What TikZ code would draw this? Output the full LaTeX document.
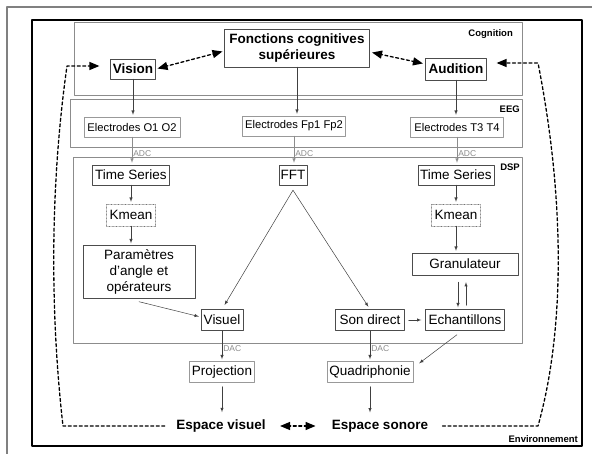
\documentclass[tikz,border=0pt]{standalone}
\usepackage{fontspec}
\setmainfont{Liberation Sans}
\usetikzlibrary{arrows}
\usetikzlibrary{positioning}

\tikzset{
  boite/.style={draw=black!70, fill=white, inner sep=0pt, minimum height=20pt,
    font=\fontsize{13.5}{16}\selectfont},
  boitegrise/.style={boite, draw=black!40},
  boiteelec/.style={boitegrise, font=\fontsize{11.2}{13}\selectfont},
  boitepoint/.style={boite, draw=black!55, densely dotted},
  titre/.style={font=\bfseries\fontsize{13.5}{16}\selectfont},
  etiq/.style={font=\bfseries\fontsize{9.5}{11}\selectfont, inner sep=0pt, anchor=east},
  conv/.style={font=\fontsize{8.5}{9}\selectfont, text=black!45, inner sep=1pt},
  fleche/.style={->, >=latex, draw=black!75, line width=0.5pt, shorten >=2pt},
  lien/.style={<->, >=triangle 45, line width=1.3pt, dash pattern=on 3pt off 2.5pt},
  boucle/.style={->, >=triangle 45, line width=1.3pt, dash pattern=on 3pt off 2.5pt},
  zone/.style={draw=black!45, line width=0.7pt}
}

\begin{document}
\begin{tikzpicture}[line cap=round,line join=round,x=1pt,y=-1pt]
\useasboundingbox (0,0) rectangle (592,454);
% cadres
\draw[black!50, line width=1.5pt] (7,454) -- (7,7) -- (592,7);
\draw[line width=1.2pt] (32,20) rectangle (582,446);
\draw[zone] (74,22) rectangle (522,95);
\draw[zone] (70,99) rectangle (522,147);
\draw[zone] (73,157) rectangle (522,343);
\node[etiq] (lcog) at (513,34) {Cognition};
\node[etiq] (leeg) at (520,109) {EEG};
\node[etiq] (ldsp) at (520,167) {DSP};
\node[etiq] (lenv) at (578,439) {Environnement};

% cognition
\node[boite, titre, minimum width=145, minimum height=38, align=center] (fonc) at (297,48) {Fonctions cognitives\\supérieures};
\node[boite, titre, minimum width=45, minimum height=20] (vision) at (133,69) {Vision};
\node[boite, titre, minimum width=61, minimum height=22] (audition) at (456,69) {Audition};

% EEG
\node[boiteelec, minimum width=96] (eO) at (132,127) {Electrodes O1 O2};
\node[boiteelec, minimum width=103] (eF) at (294,126) {Electrodes Fp1 Fp2};
\node[boiteelec, minimum width=93] (eT) at (457,127) {Electrodes T3 T4};

% DSP
\node[boite, minimum width=77] (tsL) at (131,175) {Time Series};
\node[boite, minimum width=28] (fft) at (293,175) {FFT};
\node[boite, minimum width=76] (tsR) at (456,175) {Time Series};
\node[boitepoint, minimum width=49, minimum height=22] (kmL) at (131,215) {Kmean};
\node[boitepoint, minimum width=49, minimum height=22] (kmR) at (456,215) {Kmean};
\node[boite, minimum width=112, minimum height=53, align=center] (param) at (139,272) {Paramètres\\d’angle et\\opérateurs};
\node[boite, minimum width=106, minimum height=22] (gran) at (465,264) {Granulateur};
\node[boite, minimum width=42, minimum height=21] (visuel) at (222,320) {Visuel};
\node[boite, minimum width=69, minimum height=21] (son) at (370,320) {Son direct};
\node[boite, minimum width=79, minimum height=21] (echan) at (465,320) {Echantillons};

% sorties
\node[boitegrise, minimum width=65, minimum height=21] (proj) at (222,372) {Projection};
\node[boitegrise, minimum width=86, minimum height=21] (quad) at (370,372) {Quadriphonie};
\node[titre] (espV) at (221,426) {Espace visuel};
\node[titre] (espS) at (380,426) {Espace sonore};

% fleches
\draw[fleche] (vision.south) -- (vision.south |- eO.north);
\draw[fleche] (fonc.south) -- (fonc.south |- eF.north);
\draw[fleche] (audition.south) -- (audition.south |- eT.north);
\draw[fleche, draw=black!45] (eO.south) -- (eO.south |- tsL.north) node[conv, pos=0.6, right] {ADC};
\draw[fleche, draw=black!45] (eF.south) -- (eF.south |- fft.north) node[conv, pos=0.6, right] {ADC};
\draw[fleche, draw=black!45] (eT.south) -- (eT.south |- tsR.north) node[conv, pos=0.6, right] {ADC};
\draw[fleche] (tsL.south) -- (tsL.south |- kmL.north);
\draw[fleche] (kmL.south) -- (kmL.south |- param.north);
\draw[fleche] (tsR.south) -- (tsR.south |- kmR.north);
\draw[fleche] (kmR.south) -- (kmR.south |- gran.north);
\draw[fleche, shorten <=7pt] ([xshift=-7pt]gran.south) -- ([xshift=-7pt]gran.south |- echan.north);
\draw[fleche, shorten >=7pt, shorten <=4pt] ([xshift=1pt]gran.south |- echan.north) -- ([xshift=1pt]gran.south);
\draw[fleche, shorten >=5pt] ([yshift=-5pt]fft.south) -- (visuel.north);
\draw[fleche, shorten >=3pt] ([yshift=-5pt]fft.south) -- (son.north);
\draw[fleche] ([yshift=-3pt]param.south) -- ([yshift=3pt]visuel.west);
\draw[fleche, shorten <=4pt, shorten >=4pt] (son) -- (echan);
\draw[fleche, shorten >=0pt] ([xshift=-8pt,yshift=-4pt]echan.south) -- ([xshift=6pt,yshift=-2pt]quad.north east);
\draw[fleche] (visuel.south) -- (visuel.south |- proj.north) node[conv, pos=0.6, right] {DAC};
\draw[fleche] (son.south) -- (son.south |- quad.north) node[conv, pos=0.6, right] {DAC};
\draw[fleche, shorten <=4pt, shorten >=4pt] (proj.south) -- (proj.south |- espV.north);
\draw[fleche, shorten <=4pt, shorten >=4pt] (quad.south) -- (quad.south |- espS.north);

% liens en pointilles
\draw[lien, shorten <=2pt, shorten >=2pt] (vision.east) -- ([yshift=-3pt]fonc.west);
\draw[lien, shorten <=2.5pt, shorten >=2.5pt] ([yshift=-4pt]fonc.east) -- ([yshift=5pt]audition.west);
\draw[lien, shorten <=11pt, shorten >=13pt] (espV.east) -- (espS.west);
\coordinate (bg) at (63,426);
\coordinate (hg) at (67,66);
\coordinate (bd) at (538,426);
\coordinate (hd) at (538,63);
\draw[boucle] ([xshift=-8pt]espV.west) -- (bg) .. controls (52,330) and (48,200) .. (hg) -- ([xshift=-11pt,yshift=3pt]vision.west);
\draw[boucle] ([xshift=11pt]espS.east) -- (bd) .. controls (565,330) and (565,200) .. (hd) -- ([xshift=10pt,yshift=6pt]audition.east);
\end{tikzpicture}
\end{document}
